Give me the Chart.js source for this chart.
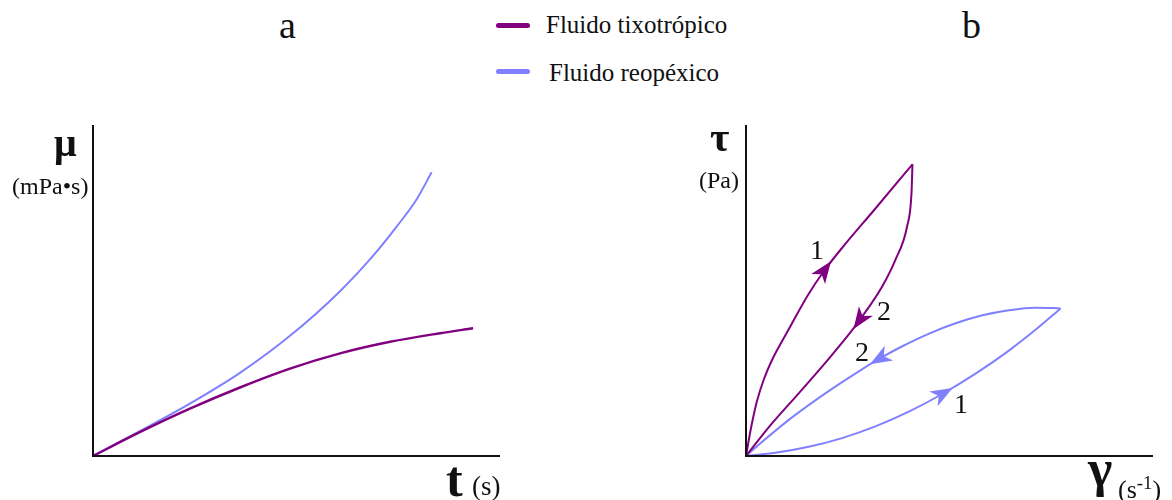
<!DOCTYPE html>
<html>
<head>
<meta charset="utf-8">
<script src="https://cdn.jsdelivr.net/npm/chart.js@4/dist/chart.umd.min.js"></script>
<style>
  html, body { margin: 0; padding: 0; background: #fff; }
  body { width: 1172px; height: 500px; position: relative; overflow: hidden;
         font-family: "Liberation Serif", "DejaVu Serif", serif; color: #111; }
  .box { position: absolute; }
  .txt { position: absolute; white-space: nowrap; line-height: 1; }
  .swatch { position: absolute; height: 5px; border-radius: 3px; }
</style>
</head>
<body>
<div class="box" style="left:63px;top:95px;width:467px;height:391px;"><canvas id="chartA"></canvas></div>
<div class="box" style="left:716px;top:95px;width:447px;height:391px;"><canvas id="chartB"></canvas></div>
<div id="labels"></div>
<script>
// colours
const PURPLE = '#800080';
const BLUE = '#8080ff';

// panel a: viscosity vs time (0..100 on both axes, no ticks in the original)
const aTixoX = [0, 11.5, 23.8, 36.1, 48.4, 60.7, 73.0, 85.3, 93.4];
const aTixoY = [0, 7.2, 14.3, 20.7, 26.4, 31.0, 34.5, 37.1, 38.6];
const aReoX = [0, 11.5, 23.8, 36.1, 48.4, 60.7, 68.9, 74.6, 79.5, 83.2];
const aReoY = [0, 7.5, 15.8, 25.1, 36.3, 49.8, 60.6, 69.3, 77.5, 85.7];

// panel b: shear stress vs shear rate, hysteresis loops
const bTixoUpX = [0, 1.23, 2.70, 4.42, 6.39, 8.60, 10.81, 15.23, 19.16, 23.59, 31.70, 40.9];
const bTixoUpY = [0, 8.46, 16.62, 23.26, 29.00, 34.14, 38.97, 48.64, 55.89, 62.84, 74.62, 88.13];
const bTixoDownX = [40.9, 40.66, 39.56, 36.68, 33.42, 28.08, 26.04, 20.32, 12.95, 5.97, 0];
const bTixoDownY = [88.13, 79.37, 69.27, 59.21, 51.15, 41.33, 37.95, 29.37, 18.94, 9.24, 0];
const bReoUpX = [0, 7.2, 15.4, 23.6, 31.8, 40.0, 48.2, 56.4, 64.6, 71.2, 77.3];
const bReoUpY = [0, 0.97, 2.78, 5.41, 8.94, 13.38, 18.73, 24.89, 31.84, 38.19, 44.59];
const bReoDownX = [77.3, 71.2, 64.6, 58.1, 51.5, 45.0, 38.3, 33.0, 28.5, 19.5, 11.3, 3.9, 0];
const bReoDownY = [44.59, 44.80, 44.05, 42.51, 40.09, 36.98, 33.08, 29.55, 26.19, 18.94, 11.66, 4.20, 0];

// arrows on panel b: dataset index and point index on that curve
const arrowDs = [0, 1, 3, 2];
const arrowPt = [8, 5, 7, 6];

const pts = (xs, ys) => xs.map((x, i) => ({ x, y: ys[i] }));

function line(data, color, width) {
    return {
        data, borderColor: color, backgroundColor: color,
        borderWidth: width, pointRadius: 0, showLine: true,
        cubicInterpolationMode: 'monotone', fill: false, clip: false
    };
}

// L-shaped axes drawn on the chart area edges
const axesPlugin = {
    id: 'axes',
    afterDraw(chart) {
        const { ctx, chartArea: a } = chart;
        ctx.save();
        ctx.strokeStyle = '#111';
        ctx.lineWidth = 2;
        ctx.beginPath();
        ctx.moveTo(a.left, a.top);
        ctx.lineTo(a.left, a.bottom);
        ctx.lineTo(a.right, a.bottom);
        ctx.stroke();
        ctx.restore();
    }
};

// filled arrow heads pointing along the curve
const arrowPlugin = {
    id: 'arrows',
    afterDatasetsDraw(chart) {
        if (chart.canvas.id !== 'chartB') return;
        const { ctx } = chart;
        arrowDs.forEach((d, k) => {
            const meta = chart.getDatasetMeta(d);
            const i = arrowPt[k];
            const p = meta.data[i], prev = meta.data[i - 1], next = meta.data[i + 1];
            let dx = next.x - prev.x, dy = next.y - prev.y;
            const len = Math.hypot(dx, dy);
            dx /= len; dy /= len;
            const nx = -dy, ny = dx;
            ctx.save();
            ctx.fillStyle = chart.data.datasets[d].borderColor;
            ctx.beginPath();
            ctx.moveTo(p.x + dx * 12, p.y + dy * 12);
            ctx.lineTo(p.x - dx * 10 + nx * 8.5, p.y - dy * 10 + ny * 8.5);
            ctx.lineTo(p.x - dx * 4, p.y - dy * 4);
            ctx.lineTo(p.x - dx * 10 - nx * 8.5, p.y - dy * 10 - ny * 8.5);
            ctx.closePath();
            ctx.fill();
            ctx.restore();
        });
    }
};

function makeChart(id, datasets, padding) {
    return new Chart(document.getElementById(id), {
        type: 'scatter',
        data: { datasets },
        options: {
            responsive: true,
            maintainAspectRatio: false,
            animation: false,
            layout: { padding },
            plugins: { legend: { display: false }, tooltip: { enabled: false } },
            scales: {
                x: { type: 'linear', min: 0, max: 100, display: false },
                y: { type: 'linear', min: 0, max: 100, display: false }
            }
        },
        plugins: [axesPlugin, arrowPlugin]
    });
}

makeChart('chartA', [
    line(pts(aTixoX, aTixoY), PURPLE, 2.5),
    line(pts(aReoX, aReoY), BLUE, 2)
], { left: 30, right: 30, top: 30, bottom: 30 });

makeChart('chartB', [
    line(pts(bTixoUpX, bTixoUpY), PURPLE, 2),
    line(pts(bTixoDownX, bTixoDownY), PURPLE, 2),
    line(pts(bReoUpX, bReoUpY), BLUE, 2),
    line(pts(bReoDownX, bReoDownY), BLUE, 2)
], { left: 30, right: 10, top: 30, bottom: 30 });

// text placed by baseline
const holder = document.getElementById('labels');
function text(html, x, baseline, size, extra) {
    const el = document.createElement('div');
    el.className = 'txt';
    el.innerHTML = html;
    el.style.left = x + 'px';
    el.style.top = (baseline - 0.84 * size) + 'px';
    el.style.fontSize = size + 'px';
    if (extra) Object.assign(el.style, extra);
    holder.appendChild(el);
}
function swatch(x, y, w, color) {
    const el = document.createElement('div');
    el.className = 'swatch';
    el.style.left = x + 'px';
    el.style.top = (y - 2.5) + 'px';
    el.style.width = w + 'px';
    el.style.background = color;
    holder.appendChild(el);
}

// panel titles
text('a', 279, 38, 38);
text('b', 962, 38, 38);

// legend
swatch(496, 25, 34, PURPLE);
swatch(496, 71, 34, BLUE);
text('Fluido tixotrópico', 546, 33, 25);
text('Fluido reopéxico', 549, 81, 25);

// axis labels panel a
text('μ', 54, 157, 40, { fontWeight: 'bold' });
text('(mPa•s)', 12, 194, 24);
text('t', 446, 496, 50, { fontWeight: 'bold' });
text('(s)', 472, 496, 27);

// axis labels panel b
text('τ', 710, 151, 42, { fontWeight: 'bold' });
text('(Pa)', 699, 188, 24);
text('γ', 1088, 487, 52, { fontWeight: 'bold' });
text('(s<sup style="font-size:0.72em;vertical-align:0.5em">-1</sup>)', 1118, 496, 26);

// loop numbers
text('1', 810, 260, 28);
text('2', 877, 321, 28);
text('2', 855, 362, 28);
text('1', 954, 414, 28);
</script>
</body>
</html>
